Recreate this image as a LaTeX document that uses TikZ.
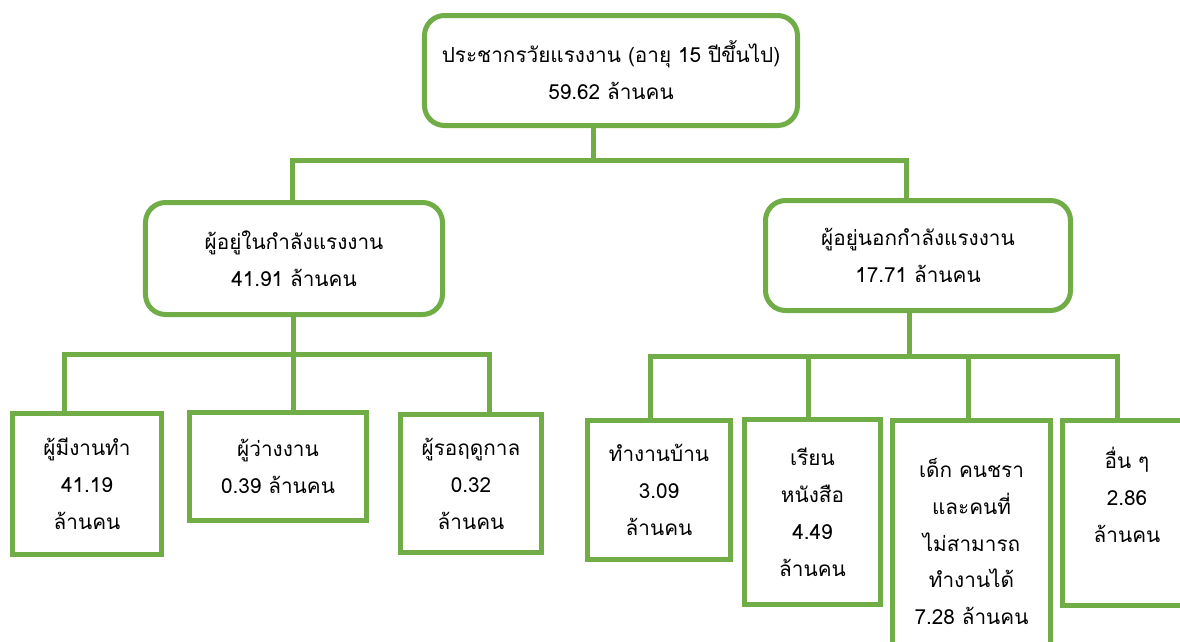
\documentclass[tikz,border=0pt]{standalone}
\usepackage{fontspec}
\setmainfont[Script=Thai]{Loma}
\definecolor{lgreen}{HTML}{70AD47}

\begin{document}
\begin{tikzpicture}
  [x=0.2mm,y=-0.2mm,
   every node/.style={align=center,font=\fontsize{11.8}{21}\selectfont},
   rbox/.style={draw=lgreen,line width=1mm,rounded corners=4mm,fill=white},
   sbox/.style={draw=lgreen,line width=1mm,fill=white},
   link/.style={draw=lgreen,line width=1mm}]
  \clip (0,0) rectangle (1180,641);

  \node[rbox,minimum width=74.6mm,minimum height=22mm] (top) at (611,70.5)
    {ประชากรวัยแรงงาน (อายุ 15 ปีขึ้นไป)\\59.62 ล้านคน};
  \node[rbox,minimum width=59.4mm,minimum height=22.4mm] (inlf) at (294,258.5)
    {ผู้อยู่ในกำลังแรงงาน\\41.91 ล้านคน};
  \node[rbox,minimum width=61mm,minimum height=22mm] (outlf) at (918,255.5)
    {ผู้อยู่นอกกำลังแรงงาน\\17.71 ล้านคน};

  \node[sbox,minimum width=29.8mm,minimum height=28.2mm] (b1) at (87,484)
    {ผู้มีงานทำ\\41.19\\ล้านคน};
  \node[sbox,minimum width=35.4mm,minimum height=21.6mm] (b2) at (278,466.5)
    {ผู้ว่างงาน\\0.39 ล้านคน};
  \node[sbox,minimum width=28.2mm,minimum height=27.6mm] (b3) at (471,483.5)
    {ผู้รอฤดูกาล\\0.32\\ล้านคน};
  \node[sbox,minimum width=28.6mm,minimum height=27.8mm] (b4) at (659,490)
    {ทำงานบ้าน\\3.09\\ล้านคน};
  \node[sbox,minimum width=27.2mm,minimum height=37mm] (b5) at (812.5,512)
    {เรียน\\หนังสือ\\4.49\\ล้านคน};
  \node[sbox,minimum width=31.6mm,minimum height=48.4mm] (b6) at (971.5,541.5)
    {เด็ก คนชรา\\และคนที่\\ไม่สามารถ\\ทำงานได้\\7.28 ล้านคน};
  \node[sbox,minimum width=26mm,minimum height=37mm] (b7) at (1127,513)
    {อื่น ๆ\\2.86\\ล้านคน\\\mbox{}};

  % top level
  \coordinate (jtop) at (593,160);
  \coordinate (busL) at (292,160);
  \coordinate (busR) at (906,160);
  \draw[link] (top.south -| jtop) -- (jtop);
  \draw[link] (inlf.north -| busL) |- (busR) -- (outlf.north -| busR);

  % in labour force
  \coordinate (ina) at (64,354);
  \coordinate (inb) at (293,354);
  \coordinate (inc) at (489,354);
  \draw[link] (b1.north -| ina) |- (inc) -- (b3.north -| inc);
  \draw[link] (inlf.south -| inb) -- (b2.north -| inb);

  % outside labour force
  \coordinate (oa) at (650,356);
  \coordinate (ob) at (808,356);
  \coordinate (oc) at (968,356);
  \coordinate (od) at (1117,356);
  \coordinate (ostem) at (909,356);
  \draw[link] (b4.north -| oa) |- (od) -- (b7.north -| od);
  \draw[link] (outlf.south -| ostem) -- (ostem);
  \foreach \c/\b in {ob/b5,oc/b6}
    \draw[link] (\c) -- (\b.north -| \c);
\end{tikzpicture}
\end{document}
